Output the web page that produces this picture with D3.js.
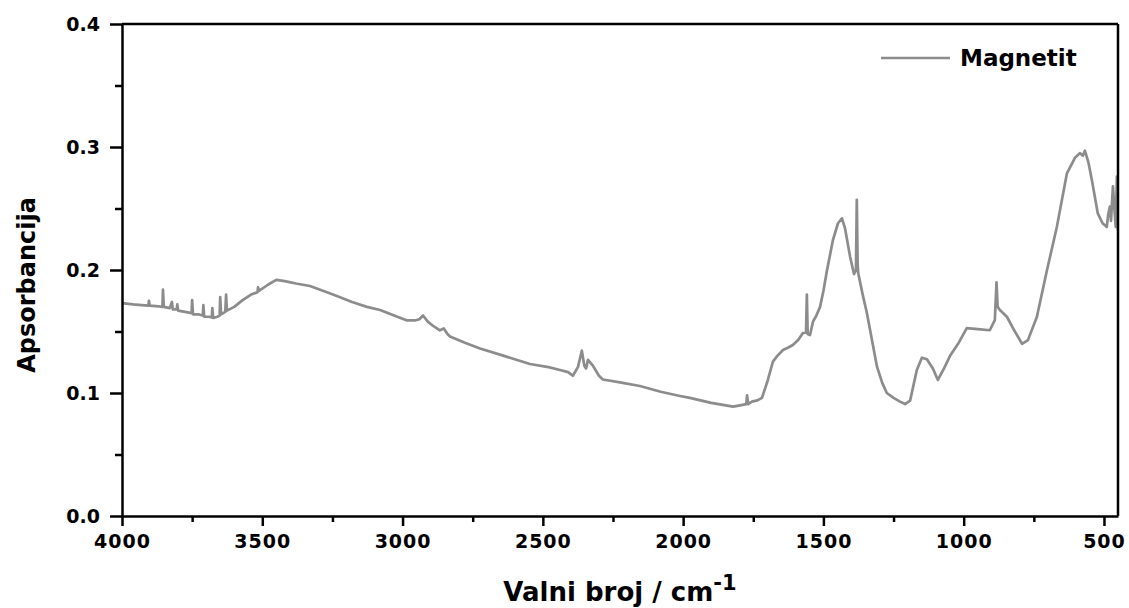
<!DOCTYPE html>
<html>
<head>
<meta charset="utf-8">
<script src="https://cdn.jsdelivr.net/npm/d3@7"></script>
<style>
  body { margin: 0; background: #fff; }
  text { font-family: "DejaVu Sans", sans-serif; font-weight: bold; }
</style>
</head>
<body>
<div class="canvas"></div>
<script>
// spectrum (wavenumber in cm-1, absorbance)
const wavenumber = [
  4000, 3960, 3930, 3906, 3904, 3901, 3870, 3856, 3854, 3851, 3830, 3822, 3819, 3805, 3803, 3800,
  3775, 3752, 3750, 3747, 3730, 3712, 3710, 3707, 3690, 3680, 3678, 3675, 3660, 3652, 3650, 3647,
  3632, 3629, 3626, 3600, 3570, 3540, 3517, 3515, 3512, 3480, 3450, 3420, 3380, 3330, 3248, 3180,
  3127, 3080, 3030, 2984, 2956, 2940, 2927, 2910, 2891, 2867, 2853, 2840, 2831, 2780, 2724, 2650,
  2546, 2480, 2439, 2410, 2393, 2375, 2361, 2352, 2346, 2339, 2321, 2300, 2286, 2220, 2154, 2080,
  2011, 1976, 1900, 1822, 1797, 1775, 1772, 1768, 1755, 1735, 1719, 1698, 1680, 1665, 1644, 1625,
  1609, 1590, 1573, 1562, 1559, 1556, 1548, 1537, 1525, 1512, 1500, 1487, 1466, 1448, 1434, 1423,
  1405, 1391, 1384, 1381, 1378, 1376, 1360, 1345, 1309, 1290, 1274, 1250, 1227, 1209, 1191, 1167,
  1149, 1131, 1110, 1092, 1070, 1049, 1020, 989, 950, 907, 889, 883, 879, 871, 846, 820,
  792, 771, 739, 703, 668, 632, 604, 586, 575, 568, 555, 543, 522, 505, 490, 485,
  479, 475, 468, 463, 458, 454, 450
];
const absorbance = [
  0.173, 0.172, 0.1715, 0.171, 0.175, 0.171, 0.1705, 0.170, 0.184, 0.170, 0.169, 0.174, 0.168, 0.168, 0.172, 0.167,
  0.166, 0.165, 0.1755, 0.164, 0.164, 0.163, 0.1715, 0.162, 0.162, 0.1615, 0.169, 0.161, 0.162, 0.163, 0.178, 0.164,
  0.166, 0.180, 0.167, 0.170, 0.1755, 0.180, 0.182, 0.186, 0.183, 0.188, 0.192, 0.191, 0.189, 0.187, 0.180, 0.174,
  0.170, 0.1675, 0.163, 0.159, 0.159, 0.160, 0.163, 0.158, 0.1545, 0.151, 0.1525, 0.148, 0.146, 0.141, 0.1362, 0.131,
  0.1236, 0.121, 0.1187, 0.117, 0.114, 0.121, 0.1344, 0.122, 0.120, 0.127, 0.122, 0.114, 0.111, 0.1085, 0.1057, 0.101,
  0.0976, 0.096, 0.092, 0.0889, 0.090, 0.091, 0.098, 0.091, 0.093, 0.094, 0.096, 0.1106, 0.1255, 0.130, 0.135, 0.137,
  0.139, 0.143, 0.1488, 0.149, 0.180, 0.148, 0.147, 0.158, 0.163, 0.170, 0.183, 0.200, 0.2244, 0.238, 0.242, 0.234,
  0.211, 0.1967, 0.200, 0.257, 0.205, 0.1975, 0.180, 0.165, 0.1214, 0.108, 0.100, 0.096, 0.093, 0.091, 0.0938, 0.1187,
  0.1287, 0.1274, 0.120, 0.1106, 0.120, 0.130, 0.140, 0.1528, 0.152, 0.151, 0.1593, 0.190, 0.170, 0.1675, 0.162, 0.151,
  0.140, 0.143, 0.162, 0.200, 0.235, 0.2786, 0.291, 0.295, 0.293, 0.297, 0.287, 0.273, 0.246, 0.238, 0.235, 0.245,
  0.2515, 0.240, 0.268, 0.250, 0.235, 0.276, 0.232
];

const xTicks = [4000, 3500, 3000, 2500, 2000, 1500, 1000, 500];
const xMinor = [3750, 3250, 2750, 2250, 1750, 1250, 750];
const yTicks = [0.0, 0.1, 0.2, 0.3, 0.4];
const yMinor = [0.05, 0.15, 0.25, 0.35];
const seriesName = 'Magnetit';

const svg = d3.select('.canvas')
    .append('svg')
    .attr('width', 1129)
    .attr('height', 608);

const margin = { top: 24, right: 11, bottom: 92, left: 122 };
const graphWidth = 1129 - margin.left - margin.right;
const graphHeight = 608 - margin.top - margin.bottom;

const graph = svg.append('g')
    .attr('transform', `translate(${margin.left},${margin.top})`);

const x = d3.scaleLinear()
    .domain([4000, 450])
    .range([0, graphWidth]);

const y = d3.scaleLinear()
    .domain([0, 0.4])
    .range([graphHeight, 0]);

const data = wavenumber.map((w, i) => ({ w, a: absorbance[i] }));

graph.append('clipPath')
    .attr('id', 'plot-clip')
    .append('rect')
    .attr('width', graphWidth)
    .attr('height', graphHeight);

const line = d3.line()
    .x(d => x(d.w))
    .y(d => y(d.a));

graph.append('path')
    .datum(data)
    .attr('clip-path', 'url(#plot-clip)')
    .attr('fill', 'none')
    .attr('stroke', '#8c8c8c')
    .attr('stroke-width', 2.7)
    .attr('stroke-linejoin', 'round')
    .attr('d', line);

// frame: top and right lines
graph.append('line')
    .attr('x1', 0).attr('x2', graphWidth).attr('y1', 0).attr('y2', 0)
    .attr('stroke', '#000').attr('stroke-width', 2.5);
graph.append('line')
    .attr('x1', graphWidth).attr('x2', graphWidth).attr('y1', 0).attr('y2', graphHeight)
    .attr('stroke', '#000').attr('stroke-width', 2.5);

// minor ticks
graph.append('g')
    .attr('transform', `translate(0, ${graphHeight})`)
    .call(d3.axisBottom(x).tickValues(xMinor).tickSize(6).tickFormat(''))
    .call(g => g.select('.domain').remove());
graph.append('g')
    .call(d3.axisLeft(y).tickValues(yMinor).tickSize(7).tickFormat(''))
    .call(g => g.select('.domain').remove());

// major axes
const xAxisGroup = graph.append('g')
    .attr('transform', `translate(0, ${graphHeight})`)
    .call(d3.axisBottom(x).tickValues(xTicks).tickSize(10).tickSizeOuter(0).tickPadding(9).tickFormat(d3.format('d')));
const yAxisGroup = graph.append('g')
    .call(d3.axisLeft(y).tickValues(yTicks).tickSize(12).tickSizeOuter(0).tickPadding(10).tickFormat(d3.format('.1f')));

graph.selectAll('.domain, .tick line')
    .attr('stroke', '#000')
    .attr('stroke-width', 2.5);

xAxisGroup.selectAll('text')
    .attr('font-size', 19)
    .attr('letter-spacing', 1)
    .attr('fill', '#000');
yAxisGroup.selectAll('text')
    .attr('font-size', 19)
    .attr('fill', '#000');

// axis titles
const xTitle = svg.append('text')
    .attr('x', margin.left + graphWidth / 2)
    .attr('y', 601)
    .attr('text-anchor', 'middle')
    .attr('font-size', 26)
    .attr('fill', '#000');
xTitle.append('tspan').text('Valni broj / cm');
xTitle.append('tspan').attr('dy', -11).attr('font-size', 21).text('-1');

svg.append('text')
    .attr('transform', `translate(35, ${margin.top + graphHeight / 2 + 15}) rotate(-90)`)
    .attr('text-anchor', 'middle')
    .attr('font-size', 24)
    .attr('fill', '#000')
    .text('Apsorbancija');

// legend
svg.append('line')
    .attr('x1', 881).attr('x2', 950).attr('y1', 58).attr('y2', 58)
    .attr('stroke', '#8c8c8c').attr('stroke-width', 2.4);
svg.append('text')
    .attr('x', 960)
    .attr('y', 58)
    .attr('dy', '0.36em')
    .attr('font-size', 23)
    .attr('fill', '#000')
    .text(seriesName);
</script>
</body>
</html>
